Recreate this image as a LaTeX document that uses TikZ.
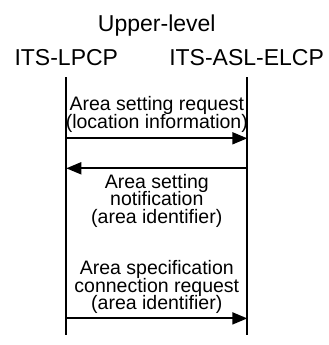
\documentclass[tikz,border=0pt]{standalone}
\usepackage{fontspec}
\setmainfont{Liberation Sans}
\usetikzlibrary{arrows.meta, positioning}
\tikzset{>={Triangle[length = 15bp, width = 12bp]}}
\newcommand{\headfont}{\fontsize{23bp}{27bp}\selectfont}
\newcommand{\msgfont}{\fontsize{19.5bp}{17.6bp}\selectfont\lineskiplimit=-20bp}

\begin{document}
\begin{tikzpicture}[x = 1bp, y = -1bp,
  lifeline/.style = {line width = 1.9bp},
  msg/.style = {line width = 1.9bp, ->},
  msgtext/.style = {font = \msgfont, align = center, inner sep = 0pt}]
\useasboundingbox (0,0) rectangle (329,345);
\node[anchor = base, font = \headfont] (upper) at (156.8, 31.7) {Upper-level};
\node[anchor = base, font = \headfont] (lpcp) at (66.3, 65.7) {ITS-LPCP};
\node[anchor = base, font = \headfont] (elcp) at (246.6, 65.7) {ITS-ASL-ELCP};
% lifelines
\coordinate (lpcp top) at (66.3, 77);
\coordinate (lpcp bot) at (66.3, 335);
\coordinate (elcp top) at (247.3, 77);
\coordinate (elcp bot) at (247.3, 335);
\draw[lifeline] (lpcp top) -- (lpcp bot);
\draw[lifeline] (elcp top) -- (elcp bot);
% messages
\coordinate (lpcp 1) at (66.3, 138.3);
\coordinate (elcp 1) at (247.3, 138.3);
\coordinate (lpcp 2) at (66.3, 168.3);
\coordinate (elcp 2) at (247.3, 168.3);
\coordinate (lpcp 3) at (66.3, 318.4);
\coordinate (elcp 3) at (247.3, 318.4);
\draw[msg] (lpcp 1) -- node[msgtext, anchor = south, yshift = 4.9bp] (req) {Area setting request\\(location information)} (elcp 1);
\draw[msg] (elcp 2) -- node[msgtext, anchor = north, yshift = -4.7bp] (notif) {Area setting\\notification\\(area identifier)} (lpcp 2);
\draw[msg] (lpcp 3) -- node[msgtext, anchor = south, yshift = 3.7bp] (conn) {Area specification\\connection request\\(area identifier)} (elcp 3);
\end{tikzpicture}
\end{document}
